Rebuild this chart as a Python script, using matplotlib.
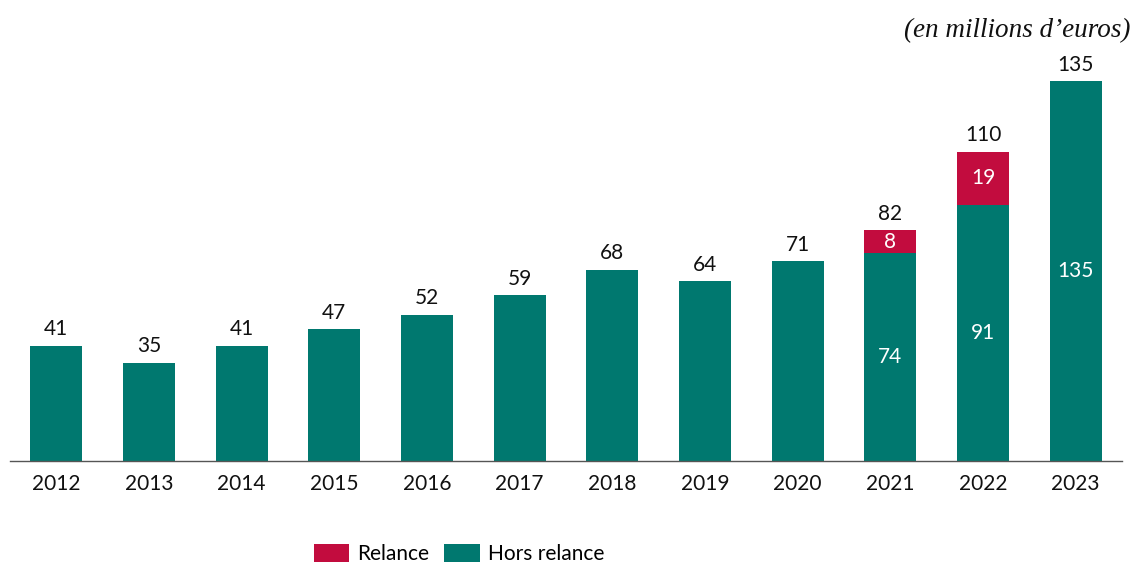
import matplotlib
matplotlib.use("Agg")
import matplotlib.pyplot as plt
from matplotlib.patches import Patch

years = ["2012", "2013", "2014", "2015", "2016", "2017", "2018", "2019", "2020", "2021", "2022", "2023"]
hors_relance = [41, 35, 41, 47, 52, 59, 68, 64, 71, 74, 91, 135]
relance = [0, 0, 0, 0, 0, 0, 0, 0, 0, 8, 19, 0]
totals = [41, 35, 41, 47, 52, 59, 68, 64, 71, 82, 110, 135]
inner_years = ["2021", "2022", "2023"]

TEAL = "#00786F"
RED = "#C20C3E"
FONT = ["Lato", "DejaVu Sans"]

plt.rcParams["font.family"] = FONT

fig = plt.figure(figsize=(11.34, 5.65), dpi=100)
ax = fig.add_axes([10/1134, 104/565, 1112/1134, 422/565])

x = list(range(len(years)))
w = 0.56
ax.bar(x, hors_relance, width=w, color=TEAL, zorder=2)
ax.bar(x, relance, width=w, bottom=hors_relance, color=RED, zorder=2)

FS = 15
for i, yr in enumerate(years):
    ax.annotate(str(totals[i]), (i, totals[i]), xytext=(0, 4.5), textcoords="offset points",
                ha="center", va="bottom", fontsize=FS, color="#111111")
    if yr in inner_years:
        ax.text(i, hors_relance[i] / 2, str(hors_relance[i]), ha="center", va="center",
                fontsize=FS, color="white")
        if relance[i] > 0:
            ax.text(i, hors_relance[i] + relance[i] / 2, str(relance[i]), ha="center",
                    va="center", fontsize=FS, color="white")

ax.set_xlim(-0.5, 11.5)
ax.set_ylim(0, 150)
ax.set_xticks(x)
ax.set_xticklabels(years, fontsize=FS, color="#111111")
ax.tick_params(axis="x", length=0, pad=9)
ax.set_yticks([])
for s in ["top", "left", "right"]:
    ax.spines[s].set_visible(False)
ax.spines["bottom"].set_color("#555555")
ax.spines["bottom"].set_linewidth(1.0)

fig.text(1130/1134, 1 - 31/565, "(en millions d\u2019euros)", ha="right", va="center",
         fontsize=19.5, style="italic", family=["Liberation Serif", "DejaVu Serif"], color="#111111")

handles = [Patch(facecolor=RED, label="Relance"), Patch(facecolor=TEAL, label="Hors relance")]
fig.legend(handles=handles, loc="center", bbox_to_anchor=(459/1134, 1 - 554/565), ncol=2,
           frameon=False, fontsize=FS, handlelength=1.7, handleheight=1.0,
           handletextpad=0.4, columnspacing=0.7, borderpad=0.2)

fig.savefig("out.png", dpi=100)
